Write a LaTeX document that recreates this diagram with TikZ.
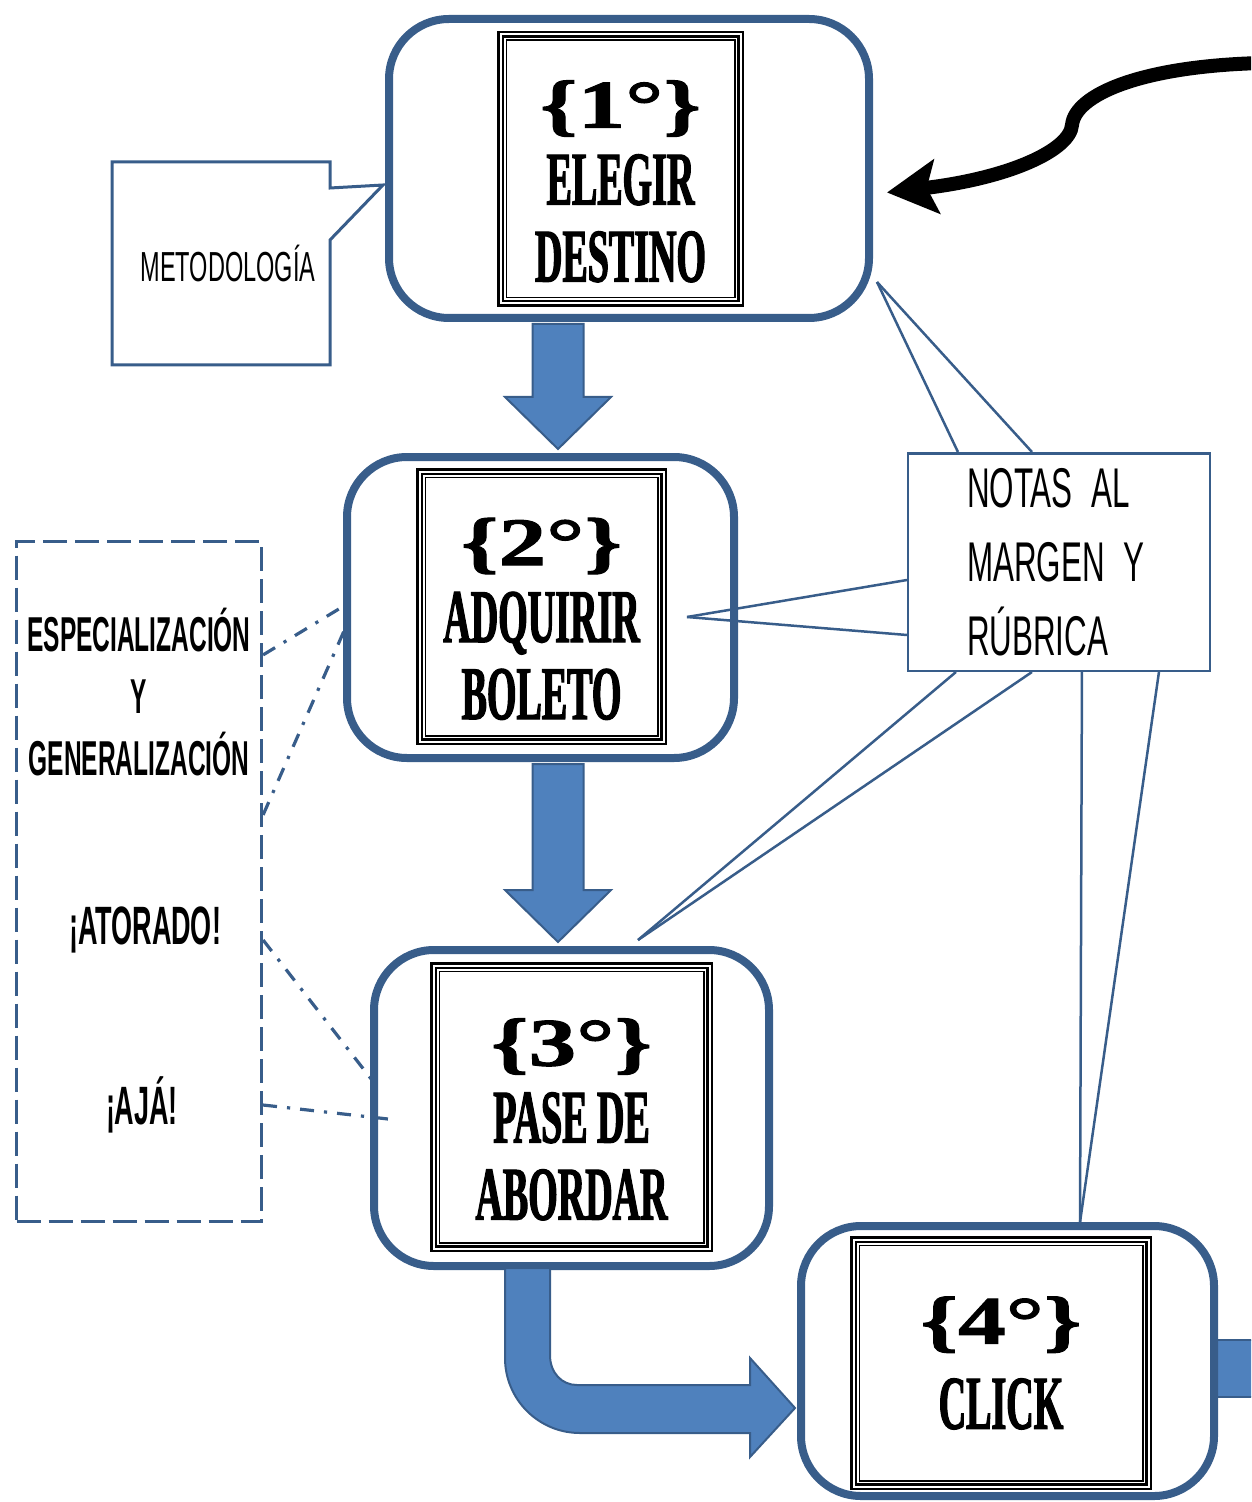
\documentclass[tikz,border=0pt]{standalone}
\usepackage{fontspec}
\setmainfont{Liberation Serif}
\newfontfamily\rotulo[FakeStretch=0.5, FakeBold=1.5]{Liberation Serif}
\newfontfamily\numero[FakeStretch=1.4, FakeBold=1.5]{Liberation Serif}
\newfontfamily\agency[FakeStretch=0.56]{Liberation Sans}
\newfontfamily\agencyb[FakeStretch=0.5]{Liberation Sans}
\usetikzlibrary{calc,arrows.meta,shapes.callouts}

\definecolor{azul}{RGB}{56,93,138}
\definecolor{relleno}{RGB}{79,129,189}

\tikzset{
  paso/.style={draw=azul, line width=4pt, rounded corners=30pt, fill=white, inner sep=0pt},
  marco/.style={draw=black, line width=1.2pt, double=white, double distance=1pt, inner sep=0pt,
    align=center, font=\rotulo\bfseries\fontsize{38}{38.5}\selectfont},
  flecha/.style={fill=relleno, draw=azul, line width=1pt},
  nota/.style={draw=azul, line width=1.25pt},
  guia/.style={azul, line width=1.6pt, dash pattern=on 7pt off 5pt on 1.6pt off 5pt},
}

% numero del paso
\newcommand{\grado}[1]{{\numero\bfseries\fontsize{34}{38.5}\selectfont\{#1°\}}}
\newcommand{\alto}{\rule{0pt}{36pt}}
% flecha gruesa hacia abajo
\newcommand{\flechab}[2]{%
  \draw[flecha] ($(#1)+(-25.5,0)$) -- ($(#2)+(-25.5,-52)$) -- ($(#2)+(-53,-52)$) -- (#2)
    -- ($(#2)+(53,-52)$) -- ($(#2)+(25.5,-52)$) -- ($(#1)+(25.5,0)$) -- cycle;}

\begin{document}
\begin{tikzpicture}[x=0.5pt, y=-0.5pt]

\useasboundingbox (0,0) rectangle (1251,1502);
\clip (0,0) rectangle (1251,1502);

% salida del paso 4
\draw[flecha] (1214,1340) rectangle (1275,1397);

% pasos
\node[paso, minimum width=240pt, minimum height=149.5pt] (b1) at (629,168.5) {};
\node[paso, minimum width=193.5pt, minimum height=150.5pt] (b2) at (540.5,607.5) {};
\node[paso, minimum width=197.5pt, minimum height=158pt] (b3) at (571.5,1108) {};
\node[paso, minimum width=206.5pt, minimum height=135pt] (b4) at (1007.5,1361) {};

\node[marco, minimum width=120pt, minimum height=134.5pt] (f1) at (620.5,169) {\alto\grado{1}\\ELEGIR\\DESTINO};
\node[marco, minimum width=122pt, minimum height=135pt] (f2) at (541.5,606.5) {\alto\grado{2}\\ADQUIRIR\\BOLETO};
\node[marco, minimum width=138pt, minimum height=141.5pt] (f3) at (571.5,1107) {\alto\grado{3}\\PASE DE\\ABORDAR};
\node[marco, minimum width=147.5pt, minimum height=123.5pt] (f4) at (1001,1363) {\grado{4}\\[4pt]CLICK};

\foreach \f in {f1,f2,f3,f4}
  \draw[line width=0.8pt] ($(\f.north west)+(7,7)$) rectangle ($(\f.south east)+(-7,-7)$);

% flechas entre pasos
\coordinate (s1) at ($(b1.south)+(-71,2)$);
\coordinate (e1) at ($(b2.north)+(17.5,-4)$);
\coordinate (s2) at ($(b2.south)+(17.5,2)$);
\coordinate (e2) at ($(b3.north)+(-13.5,-4)$);
\flechab{s1}{e1}
\flechab{s2}{e2}

\draw[flecha] (505,1268) -- (505,1358) .. controls (505,1399.4) and (538.6,1433) .. (580,1433)
  -- (750,1433) -- (750,1457) -- (795,1408) -- (750,1358) -- (750,1385) -- (577,1385)
  .. controls (561.9,1385) and (550,1373) .. (550,1355) -- (550,1268) -- cycle;

% regreso
\draw[line width=7pt, -{Stealth[length=25pt, width=27pt, inset=5pt]}] (1262,63)
  .. controls (1140,66) and (1075,95) .. (1072,125)
  .. controls (1070,150) and (1010,178) .. ($(b1.east)+(14,24)$);

% metodologia
\node[rectangle callout, draw=azul, line width=1.5pt, fill=white, minimum width=109pt, minimum height=101.5pt,
  callout absolute pointer={(383,185)}, callout pointer width=26pt,
  font=\agency\fontsize{21}{25}\selectfont] (metodo) at (221,263.5) {\hspace*{7pt}METODOLOG\'IA};

% notas al margen
\node[nota, fill=white, minimum width=150.75pt, minimum height=108.75pt, text width=92pt, inner xsep=29.4pt,
  align=left, font=\agency\fontsize{28}{37}\selectfont] (notas) at (1059,562) {NOTAS AL\\MARGEN Y\\RÚBRICA};

\coordinate (t1) at (877,282);
\coordinate (t2) at (687,617);
\coordinate (t3) at (638,940);
\coordinate (t4) at (1080,1222);
\foreach \dx in {51,125} \draw[nota] ($(notas.north west)+(\dx,0)$) -- (t1);
\foreach \dy in {18,73} \draw[nota] ($(notas.west)+(0,\dy)$) -- (t2);
\foreach \dx in {49,125} \draw[nota] ($(notas.south west)+(\dx,0)$) -- (t3);
\foreach \dx in {175,252} \draw[nota] ($(notas.south west)+(\dx,0)$) -- (t4);

% estados del alumno
\node[draw=azul, line width=1.6pt, dash pattern=on 12pt off 4pt,
  minimum width=122.5pt, minimum height=340pt] (dudas) at (139,881.5) {};
\node[font=\agencyb\bfseries\fontsize{24.5}{31}\selectfont, align=center] (espec) at (139,692)
  {ESPECIALIZACIÓN\\Y\\GENERALIZACIÓN};
\node[font=\agencyb\bfseries\fontsize{27}{31}\selectfont] (atorado) at (145,930) {¡ATORADO!};
\node[font=\agencyb\bfseries\fontsize{27}{31}\selectfont] (aja) at (142,1105) {¡AJÁ!};

\coordinate (p2) at (357,598);
\coordinate (p2b) at (344,631);
\coordinate (p3a) at (372,1080);
\coordinate (p3) at (397,1120);
\draw[guia] ($(dudas.north east)+(0,115)$) -- (p2);
\draw[guia] ($(dudas.north east)+(0,275)$) -- (p2b);
\draw[guia] ($(dudas.east |- atorado)+(0,10)$) -- (p3a);
\draw[guia] (dudas.east |- aja) -- (p3);

\end{tikzpicture}
\end{document}
